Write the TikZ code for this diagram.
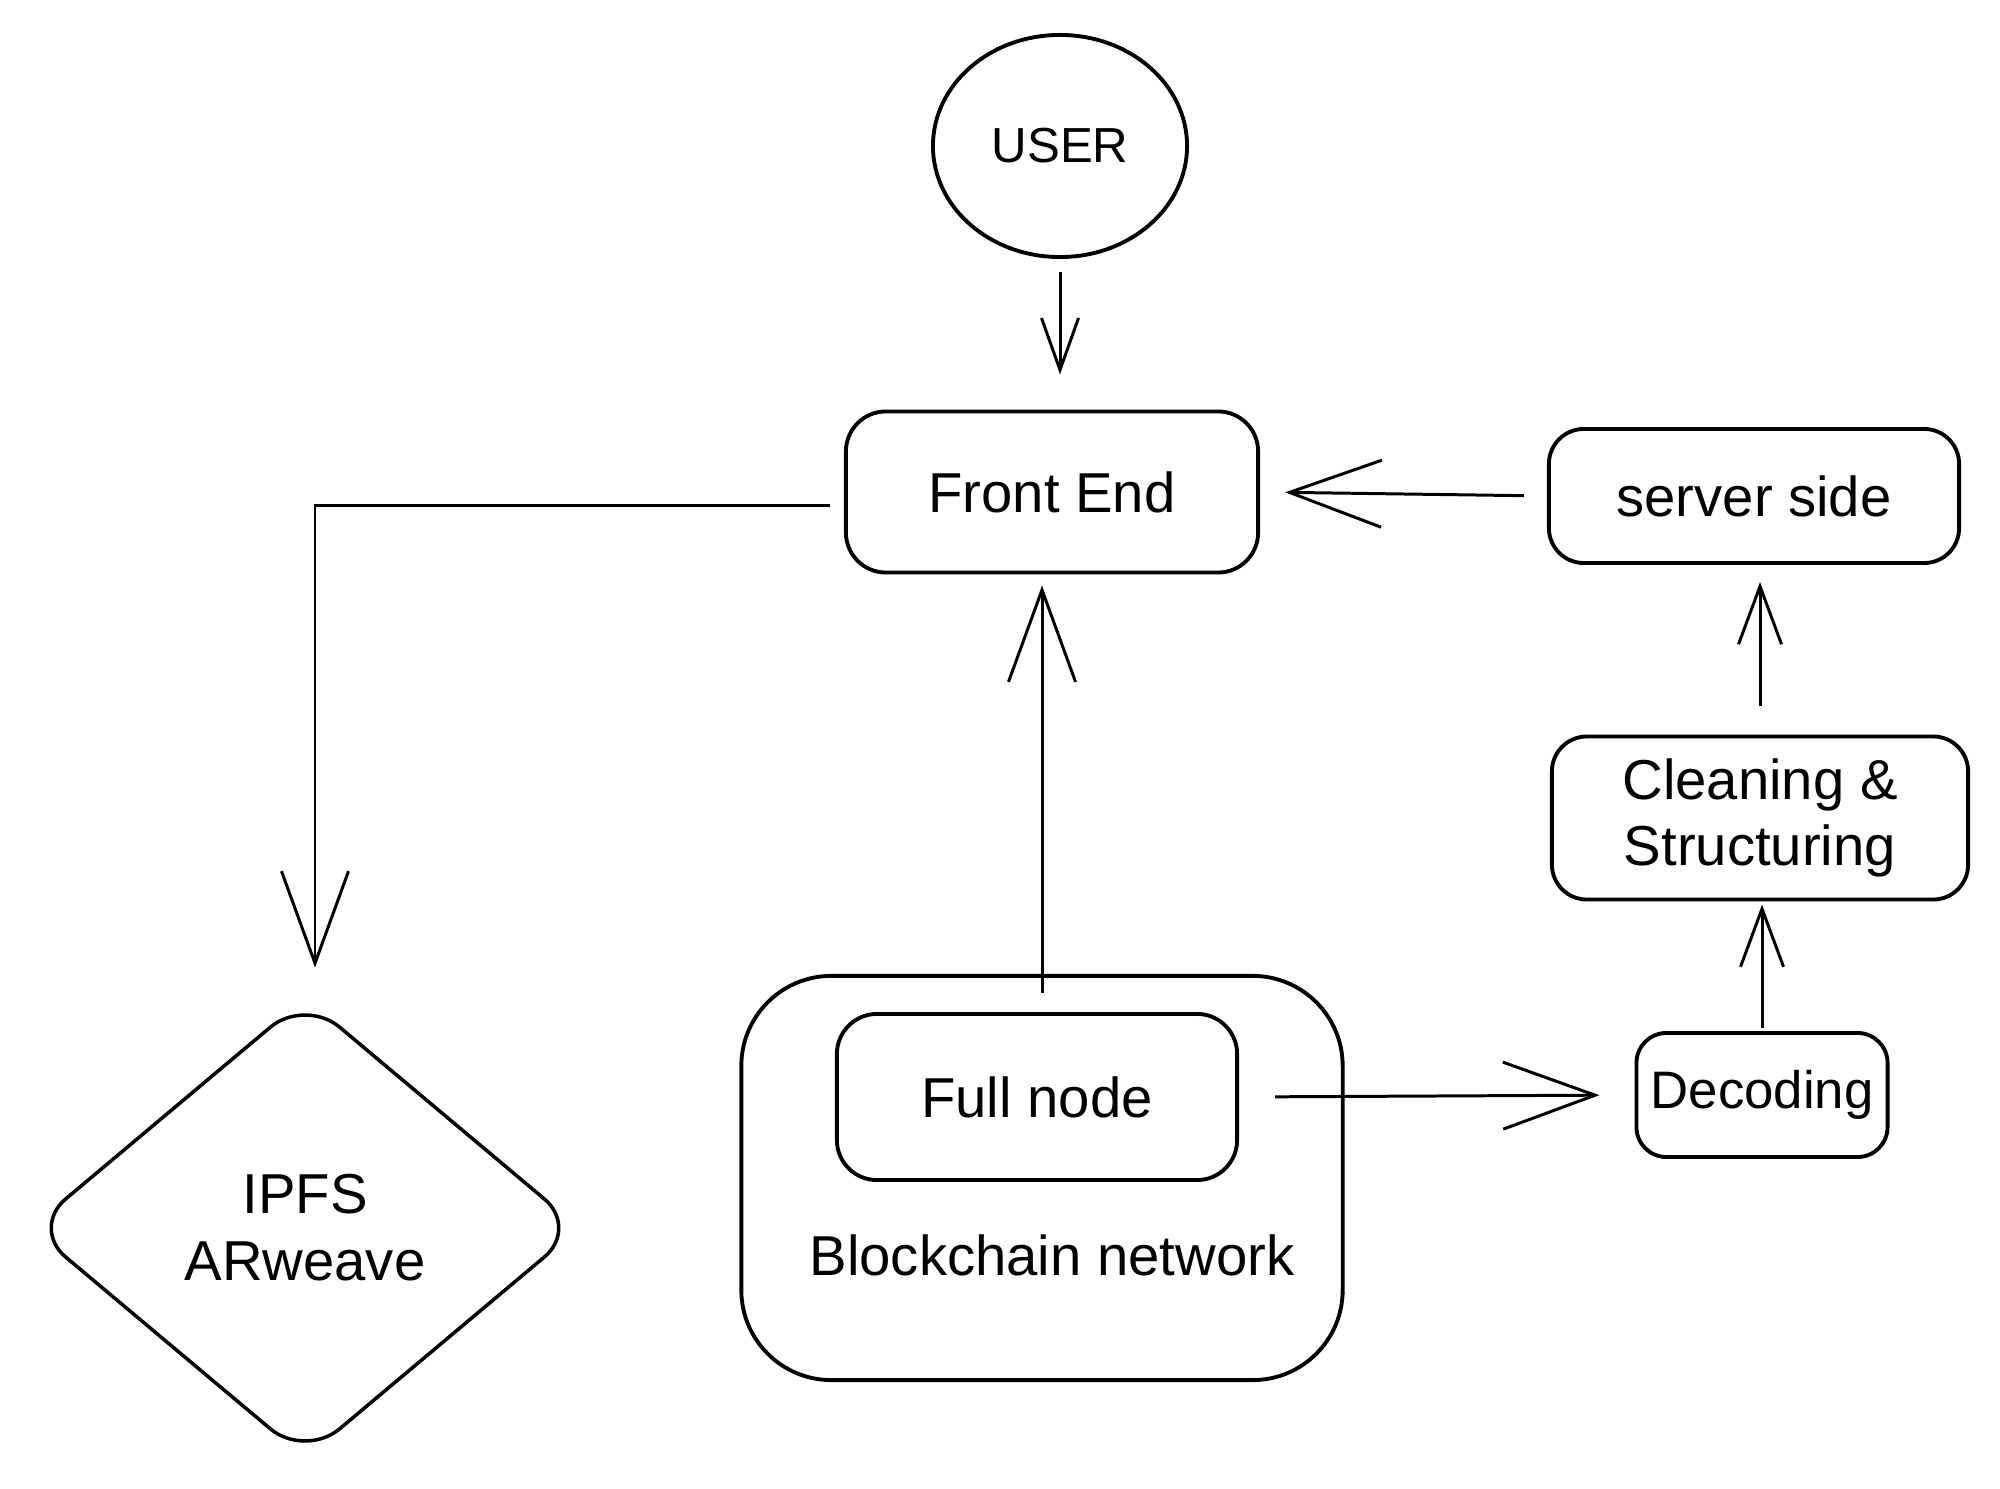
\documentclass[tikz,border=0pt]{standalone}
\usepackage{fontspec}
\setmainfont{Liberation Sans}
\usetikzlibrary{arrows.meta,shapes.geometric,calc}
\begin{document}
\begin{tikzpicture}[x=0.01cm,y=-0.01cm,
  txt/.style={font=\fontsize{16}{19}\selectfont, align=center},
  box/.style={draw, line width=1.1pt, rounded corners=0.35cm, inner sep=0pt, txt},
  arrbig/.style={-{Straight Barb[length=0.92cm,width=0.67cm]}, line width=0.85pt},
  arrsmall/.style={-{Straight Barb[length=0.58cm,width=0.43cm]}, line width=0.85pt}]
\fill[white] (0,0) rectangle (2000,1489);
\useasboundingbox (0,0) rectangle (2000,1489);
% nodes
\node[ellipse, draw, line width=1.1pt, minimum width=2.54cm, minimum height=2.22cm, inner sep=0pt,
      font=\fontsize{14}{17}\selectfont] (user) at (1060,146) {USER};
\node[box, minimum width=4.12cm, minimum height=1.61cm, rounded corners=0.4cm] (fe) at (1052,492) {Front End};
\node[box, minimum width=4.10cm, minimum height=1.34cm] (server) at (1754,496) {server side};
\node[box, minimum width=4.16cm, minimum height=1.63cm] (clean) at (1760,818) {Cleaning \&\\Structuring};
\node[box, minimum width=2.51cm, minimum height=1.24cm, rounded corners=0.3cm,
      font=\fontsize{15}{18}\selectfont] (dec) at (1762,1095) {Decoding};
\node[box, minimum width=6.01cm, minimum height=4.04cm, rounded corners=0.9cm] (chain) at (1042,1178) {};
\node[box, minimum width=4.00cm, minimum height=1.66cm, rounded corners=0.4cm] (full) at (1037,1097) {Full node};
\node[txt] (chainlbl) at (1052,1255) {Blockchain network};
\node[diamond, draw, line width=1pt, rounded corners=0.45cm, minimum width=5.49cm, minimum height=4.61cm,
      inner sep=0pt, txt] (ipfs) at (305,1228) {IPFS\\ARweave};
% connectors
\draw[-{Straight Barb[length=0.52cm,width=0.37cm]}, line width=0.85pt, shorten <=0.13cm, shorten >=0.35cm]
  (user.south) -- (user.south |- fe.north);
\draw[arrbig, shorten <=0.23cm, shorten >=0.25cm] (server.west) -- (fe.east);
\draw[arrsmall, shorten <=0.28cm, shorten >=0.17cm] (clean.north) -- (clean.north |- server.south);
\draw[arrsmall, shorten <=0.03cm, shorten >=0.03cm] (dec.north) -- (dec.north |- clean.south);
\draw[arrbig, shorten <=0.36cm, shorten >=0.35cm] (full.east) -- (dec.west);
\draw[arrbig, shorten >=0.11cm] ($(chain.north)+(0,19)$) -- (chain.north |- fe.south);
\draw[arrbig] ($(fe.west)+(-14,14)$) -| ($(ipfs.north)+(10,-28)$);
\end{tikzpicture}
\end{document}
